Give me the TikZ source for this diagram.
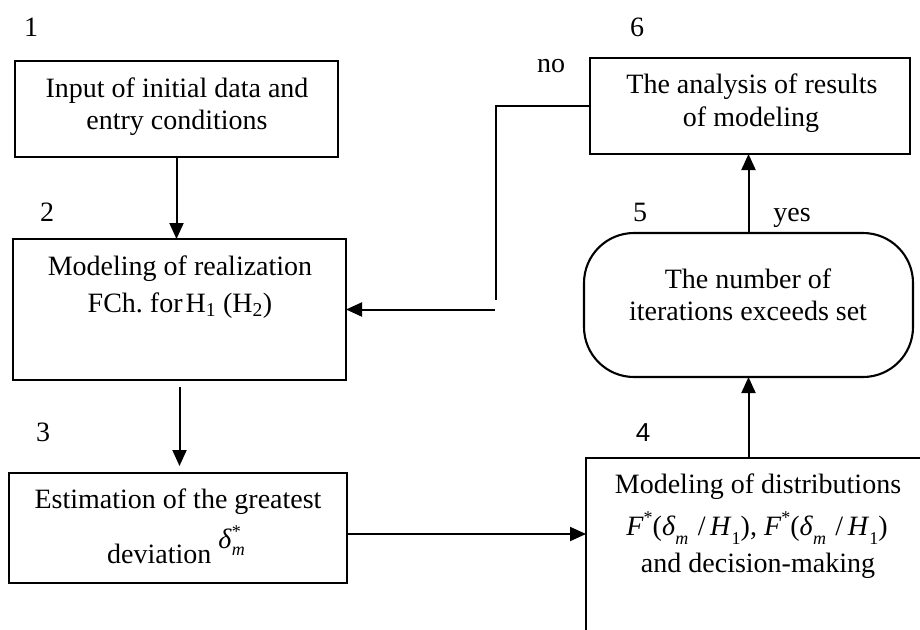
\documentclass[tikz,border=0pt]{standalone}
\usepackage{fontspec}
\setmainfont{Liberation Serif}
\newfontfamily\arialfont{Liberation Sans}
\usetikzlibrary{arrows.meta}
\newcommand{\mylow}[2]{\raisebox{#1}{\fontsize{18}{18}\selectfont #2}}
\begin{document}
\frenchspacing
\begin{tikzpicture}[x=1pt,y=-1pt,
  box/.style={draw=black, line width=2.1pt, inner sep=0pt, outer sep=0pt},
  txt/.style={anchor=base, inner sep=0pt, font=\fontsize{28}{33}\selectfont},
  arr/.style={line width=2pt, -{Triangle[length=16pt,width=14pt]}},
  ln/.style={line width=2pt}]
\useasboundingbox (0,0) rectangle (920,629);
\clip (0,0) rectangle (920,629);
% boxes
\node[box, minimum width=323pt, minimum height=96pt] (b1) at (176.5,109) {};
\node[box, minimum width=333pt, minimum height=141pt] (b2) at (179.5,309.5) {};
\node[box, minimum width=338pt, minimum height=110pt] (b3) at (178,528) {};
\node[box, minimum width=364pt, minimum height=222pt] (b4) at (768,569) {};
\node[box, rounded corners=50pt, minimum width=329pt, minimum height=144pt] (b5) at (748.5,305) {};
\node[box, minimum width=320pt, minimum height=96pt] (b6) at (750,106) {};
% texts
\node[txt] (t1a) at (177,97.5) {Input of initial data and};
\node[txt] (t1b) at (177,129) {entry conditions};
\node[txt] (t2a) at (180,275) {Modeling of realization};
\node[txt] (t2b) at (180,312) {FCh. for\hspace{3pt}H\textsubscript{1} (H\textsubscript{2})};
\node[txt] (t3a) at (178,508) {Estimation of the greatest};
\node[txt] (t3b) at (176,563) {deviation \raisebox{15pt}{\textit{δ}}\rlap{\mylow{26pt}{*}}\mylow{8pt}{\itshape m}};
\node[txt] (t4a) at (758,493) {Modeling of distributions};
\node[txt] (t4b) at (757,535) {\textit{F}\mylow{12pt}{*}(\textit{δ}\mylow{-9pt}{\itshape m}\,\,/\,\textit{H}\mylow{-9pt}{1}), \textit{F}\mylow{12pt}{*}(\textit{δ}\mylow{-9pt}{\itshape m}\,\,/\,\textit{H}\mylow{-9pt}{1})};
\node[txt] (t4c) at (758,572) {and decision-making};
\node[txt] (t5a) at (748,288) {The number of};
\node[txt] (t5b) at (748,320) {iterations exceeds set};
\node[txt] (t6a) at (752,93) {The analysis of results};
\node[txt] (t6b) at (751,126) {of modeling};
% labels
\node[txt] (n1) at (31,36) {1};
\node[txt] (n6) at (637,36) {6};
\node[txt] (lno) at (551,72) {no};
\node[txt] (n2) at (47,221) {2};
\node[txt] (n5) at (640,221) {5};
\node[txt] (lyes) at (792,221) {yes};
\node[txt] (n3) at (43,441) {3};
\node[txt, font=\arialfont\fontsize{26}{30}\selectfont] (n4) at (643,441) {4};
% connectors
\draw[arr] (b1.south) -- (b1.south |- b2.north);
\draw[arr, shorten <=7pt, shorten >=7pt] (b2.south) -- (b2.south |- b3.north);
\draw[arr] ([yshift=-6pt]b3.east) -- ([yshift=-6pt]b3.east -| b4.west);
\draw[arr] (b5.south |- b4.north) -- (b5.south);
\draw[arr] (b5.north) -- (b5.north |- b6.south);
\coordinate (c2) at (496,300);
\coordinate (c3) at (495,309.5);
\draw[ln] (b6.west) -| (c2);
\draw[arr] (c3) -- (c3 -| b2.east);
\end{tikzpicture}
\end{document}
